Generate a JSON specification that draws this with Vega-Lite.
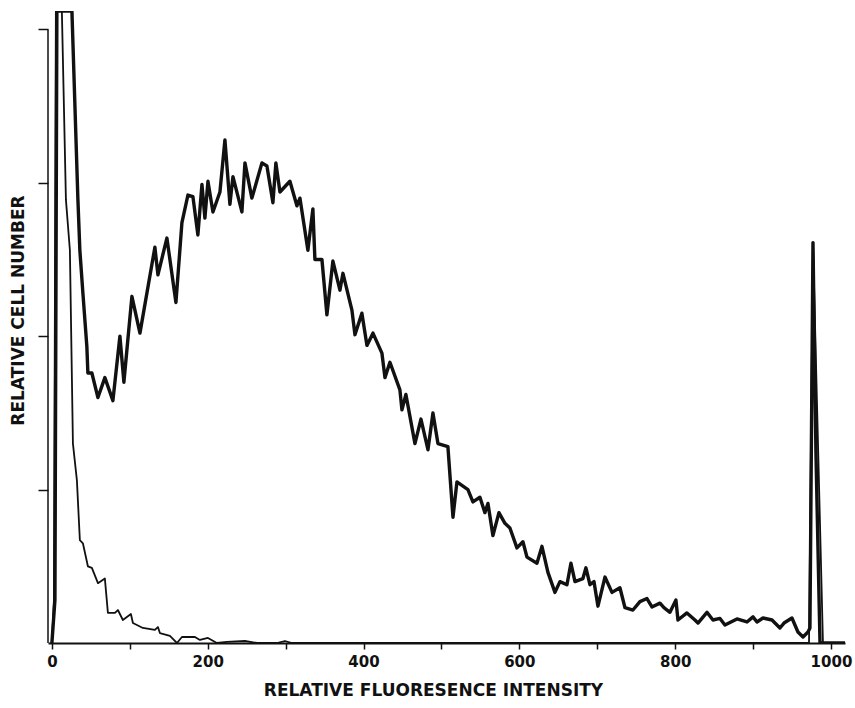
{
  "$schema": "https://vega.github.io/schema/vega-lite/v6.json",
  "width": 797,
  "height": 632,
  "autosize": "none",
  "padding": {"left": 48, "right": 10, "top": 11, "bottom": 65},
  "background": "white",
  "config": {
    "view": {"stroke": null},
    "axis": {"grid": false, "domainColor": "#111", "tickColor": "#111", "labelColor": "#111", "titleColor": "#111",
      "labelFont": "DejaVu Sans", "titleFont": "DejaVu Sans", "labelFontWeight": "bold", "titleFontWeight": "bold"}
  },
  "datasets": {
    "curves": [
      {"series": "sample", "x": 0, "y": 0}, {"series": "sample", "x": 3.9, "y": 28}, {"series": "sample", "x": 6.4, "y": 412},
      {"series": "sample", "x": 20.5, "y": 412}, {"series": "sample", "x": 25.7, "y": 412}, {"series": "sample", "x": 33.4, "y": 289},
      {"series": "sample", "x": 35.9, "y": 256}, {"series": "sample", "x": 39.8, "y": 228}, {"series": "sample", "x": 44.9, "y": 193},
      {"series": "sample", "x": 46.2, "y": 176}, {"series": "sample", "x": 51.3, "y": 176}, {"series": "sample", "x": 59.1, "y": 160},
      {"series": "sample", "x": 68.0, "y": 173}, {"series": "sample", "x": 78.3, "y": 158}, {"series": "sample", "x": 87.3, "y": 200},
      {"series": "sample", "x": 92.4, "y": 170}, {"series": "sample", "x": 102.7, "y": 226}, {"series": "sample", "x": 113.0, "y": 202},
      {"series": "sample", "x": 132.2, "y": 258}, {"series": "sample", "x": 136.1, "y": 240}, {"series": "sample", "x": 147.6, "y": 264},
      {"series": "sample", "x": 159.2, "y": 222}, {"series": "sample", "x": 166.9, "y": 274}, {"series": "sample", "x": 174.6, "y": 292},
      {"series": "sample", "x": 181.0, "y": 291}, {"series": "sample", "x": 187.4, "y": 266}, {"series": "sample", "x": 192.6, "y": 299},
      {"series": "sample", "x": 196.4, "y": 277}, {"series": "sample", "x": 200.3, "y": 301}, {"series": "sample", "x": 206.7, "y": 281},
      {"series": "sample", "x": 215.7, "y": 294}, {"series": "sample", "x": 222.1, "y": 328}, {"series": "sample", "x": 228.5, "y": 286},
      {"series": "sample", "x": 232.4, "y": 304}, {"series": "sample", "x": 243.9, "y": 281}, {"series": "sample", "x": 247.8, "y": 313},
      {"series": "sample", "x": 256.7, "y": 290}, {"series": "sample", "x": 269.6, "y": 313}, {"series": "sample", "x": 276.0, "y": 311},
      {"series": "sample", "x": 283.7, "y": 287}, {"series": "sample", "x": 287.5, "y": 313}, {"series": "sample", "x": 292.7, "y": 294},
      {"series": "sample", "x": 305.5, "y": 301}, {"series": "sample", "x": 314.5, "y": 285}, {"series": "sample", "x": 318.4, "y": 290},
      {"series": "sample", "x": 328.6, "y": 256}, {"series": "sample", "x": 335.0, "y": 283}, {"series": "sample", "x": 337.6, "y": 250},
      {"series": "sample", "x": 346.6, "y": 250}, {"series": "sample", "x": 353.0, "y": 214}, {"series": "sample", "x": 360.7, "y": 249},
      {"series": "sample", "x": 369.7, "y": 230}, {"series": "sample", "x": 373.6, "y": 241}, {"series": "sample", "x": 385.1, "y": 217},
      {"series": "sample", "x": 389.0, "y": 201}, {"series": "sample", "x": 397.9, "y": 215}, {"series": "sample", "x": 404.4, "y": 194},
      {"series": "sample", "x": 412.1, "y": 202}, {"series": "sample", "x": 423.6, "y": 189}, {"series": "sample", "x": 427.5, "y": 173},
      {"series": "sample", "x": 433.9, "y": 183}, {"series": "sample", "x": 446.7, "y": 165}, {"series": "sample", "x": 449.3, "y": 152},
      {"series": "sample", "x": 454.4, "y": 162}, {"series": "sample", "x": 466.0, "y": 130}, {"series": "sample", "x": 473.7, "y": 146},
      {"series": "sample", "x": 482.7, "y": 126}, {"series": "sample", "x": 489.1, "y": 150}, {"series": "sample", "x": 495.5, "y": 130},
      {"series": "sample", "x": 508.3, "y": 128}, {"series": "sample", "x": 514.8, "y": 82}, {"series": "sample", "x": 519.9, "y": 105},
      {"series": "sample", "x": 534.0, "y": 100}, {"series": "sample", "x": 540.4, "y": 92}, {"series": "sample", "x": 549.4, "y": 95},
      {"series": "sample", "x": 555.8, "y": 85}, {"series": "sample", "x": 559.7, "y": 91}, {"series": "sample", "x": 566.1, "y": 70},
      {"series": "sample", "x": 573.8, "y": 85}, {"series": "sample", "x": 581.5, "y": 78}, {"series": "sample", "x": 587.9, "y": 75},
      {"series": "sample", "x": 596.9, "y": 62}, {"series": "sample", "x": 604.6, "y": 66}, {"series": "sample", "x": 609.8, "y": 56},
      {"series": "sample", "x": 622.6, "y": 52}, {"series": "sample", "x": 629.0, "y": 63}, {"series": "sample", "x": 636.7, "y": 46},
      {"series": "sample", "x": 645.7, "y": 33}, {"series": "sample", "x": 652.1, "y": 40}, {"series": "sample", "x": 661.1, "y": 38},
      {"series": "sample", "x": 666.2, "y": 52}, {"series": "sample", "x": 671.4, "y": 40}, {"series": "sample", "x": 681.6, "y": 42},
      {"series": "sample", "x": 685.5, "y": 49}, {"series": "sample", "x": 690.6, "y": 38}, {"series": "sample", "x": 695.8, "y": 40},
      {"series": "sample", "x": 700.9, "y": 24}, {"series": "sample", "x": 709.9, "y": 43}, {"series": "sample", "x": 718.9, "y": 33},
      {"series": "sample", "x": 729.1, "y": 36}, {"series": "sample", "x": 735.6, "y": 23}, {"series": "sample", "x": 745.8, "y": 21.5},
      {"series": "sample", "x": 754.8, "y": 27}, {"series": "sample", "x": 763.8, "y": 29}, {"series": "sample", "x": 770.2, "y": 23.5},
      {"series": "sample", "x": 780.5, "y": 26}, {"series": "sample", "x": 785.6, "y": 23}, {"series": "sample", "x": 793.3, "y": 20},
      {"series": "sample", "x": 801.0, "y": 28}, {"series": "sample", "x": 803.6, "y": 15}, {"series": "sample", "x": 815.1, "y": 19.6},
      {"series": "sample", "x": 825.4, "y": 15}, {"series": "sample", "x": 829.3, "y": 13}, {"series": "sample", "x": 840.8, "y": 20},
      {"series": "sample", "x": 848.5, "y": 15}, {"series": "sample", "x": 857.5, "y": 16}, {"series": "sample", "x": 863.9, "y": 11.7},
      {"series": "sample", "x": 879.3, "y": 15.7}, {"series": "sample", "x": 892.2, "y": 13.7}, {"series": "sample", "x": 899.9, "y": 17},
      {"series": "sample", "x": 905.0, "y": 13.7}, {"series": "sample", "x": 912.7, "y": 16.3}, {"series": "sample", "x": 924.3, "y": 15},
      {"series": "sample", "x": 934.5, "y": 9.8}, {"series": "sample", "x": 939.7, "y": 13}, {"series": "sample", "x": 949.9, "y": 16.3},
      {"series": "sample", "x": 957.6, "y": 7.2}, {"series": "sample", "x": 964.1, "y": 3.9}, {"series": "sample", "x": 970.5, "y": 7.2},
      {"series": "sample", "x": 973.0, "y": 9.8}, {"series": "sample", "x": 976.9, "y": 261}, {"series": "sample", "x": 980.7, "y": 124},
      {"series": "sample", "x": 985.9, "y": 0}, {"series": "sample", "x": 1018, "y": 0},
      {"series": "control", "x": 0, "y": 0}, {"series": "control", "x": 2.6, "y": 28}, {"series": "control", "x": 5.1, "y": 412},
      {"series": "control", "x": 12.8, "y": 412}, {"series": "control", "x": 18.0, "y": 289}, {"series": "control", "x": 23.1, "y": 256},
      {"series": "control", "x": 27.0, "y": 130}, {"series": "control", "x": 32.1, "y": 106}, {"series": "control", "x": 35.9, "y": 67},
      {"series": "control", "x": 39.8, "y": 65}, {"series": "control", "x": 46.2, "y": 50}, {"series": "control", "x": 51.3, "y": 49},
      {"series": "control", "x": 59.1, "y": 39}, {"series": "control", "x": 68.0, "y": 42}, {"series": "control", "x": 71.9, "y": 19.6},
      {"series": "control", "x": 80.9, "y": 19.6}, {"series": "control", "x": 84.7, "y": 21.5}, {"series": "control", "x": 91.1, "y": 15},
      {"series": "control", "x": 101.4, "y": 18.9}, {"series": "control", "x": 104.0, "y": 13}, {"series": "control", "x": 116.8, "y": 9.8},
      {"series": "control", "x": 132.2, "y": 8.5}, {"series": "control", "x": 136.1, "y": 10.4}, {"series": "control", "x": 138.6, "y": 6.5},
      {"series": "control", "x": 151.5, "y": 4.6}, {"series": "control", "x": 160.5, "y": 0}, {"series": "control", "x": 166.9, "y": 3.9},
      {"series": "control", "x": 183.6, "y": 3.9}, {"series": "control", "x": 190.0, "y": 2}, {"series": "control", "x": 200.3, "y": 3.3},
      {"series": "control", "x": 211.8, "y": 0}, {"series": "control", "x": 224.6, "y": 0.7}, {"series": "control", "x": 247.8, "y": 1.3},
      {"series": "control", "x": 263.2, "y": 0}, {"series": "control", "x": 288.8, "y": 0}, {"series": "control", "x": 299.1, "y": 1.3},
      {"series": "control", "x": 308.1, "y": 0}, {"series": "control", "x": 971.8, "y": 0}, {"series": "control", "x": 976.9, "y": 261},
      {"series": "control", "x": 989.7, "y": 0}, {"series": "control", "x": 1018, "y": 0}
    ],
    "yaxis": [{"x": -5, "y0": 0, "y1": 400}]
  },
  "layer": [
    {
      "data": {"name": "yaxis"},
      "mark": {"type": "rule", "color": "#111", "strokeWidth": 1.5},
      "encoding": {
        "x": {"field": "x", "type": "quantitative", "scale": {"domain": [-5, 1018]}},
        "y": {"field": "y0", "type": "quantitative", "scale": {"domain": [0, 412]}},
        "y2": {"field": "y1"}
      }
    },
    {
      "data": {"name": "curves"},
      "mark": {"type": "line", "color": "#111", "clip": true, "strokeJoin": "round"},
      "encoding": {
        "x": {"field": "x", "type": "quantitative", "scale": {"domain": [-5, 1018], "nice": false, "zero": false},
          "axis": {"title": "RELATIVE FLUORESENCE INTENSITY", "values": [0, 100, 200, 300, 400, 500, 600, 700, 800, 900, 1000],
            "labelExpr": "datum.value % 200 == 0 ? datum.label : ''", "format": "d",
            "domainWidth": 2, "tickWidth": 1.5, "tickSize": 6, "labelFontSize": 15, "labelPadding": 5,
            "titleFontSize": 17, "titleX": 385, "titleY": 47, "titleAlign": "center", "titleBaseline": "middle", "titleAnchor": "start"}},
        "y": {"field": "y", "type": "quantitative", "scale": {"domain": [0, 412], "nice": false},
          "axis": {"title": "RELATIVE CELL NUMBER", "values": [100, 200, 300, 400], "labels": false, "domain": false,
            "tickSize": 10, "tickWidth": 1.5, "titleFontSize": 17, "titleAngle": -90, "titleX": -30, "titleY": 299,
            "titleAlign": "center", "titleBaseline": "middle", "titleAnchor": "start"}},
        "detail": {"field": "series"},
        "strokeWidth": {"field": "series", "type": "nominal", "scale": {"domain": ["control", "sample"], "range": [1.8, 3.4]}, "legend": null}
      }
    }
  ]
}
